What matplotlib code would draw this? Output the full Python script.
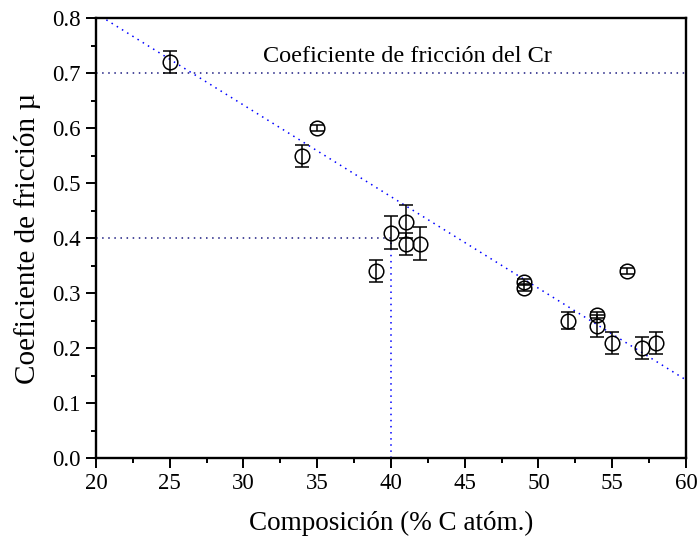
import numpy as np
import matplotlib.pyplot as plt
from matplotlib.ticker import MultipleLocator

# data
comp = [25, 34, 35, 39, 40, 41, 41, 42, 49, 49, 52, 54, 54, 55, 56, 57, 58]
mu = [0.72, 0.55, 0.60, 0.34, 0.41, 0.43, 0.39, 0.39, 0.32, 0.31, 0.25, 0.26, 0.24, 0.21, 0.34, 0.20, 0.21]
err = [0.02, 0.02, 0.006, 0.02, 0.03, 0.03, 0.02, 0.03, 0.006, 0.006, 0.015, 0.006, 0.02, 0.02, 0.006, 0.02, 0.02]

# linear fit shown as dotted line
fit_a = 1.1416
fit_b = -0.01666
cr_mu = 0.7
ref_x = 40
ref_mu = 0.4

plt.rcParams['font.family'] = ['Liberation Serif', 'DejaVu Serif']

fig = plt.figure(figsize=(6.99, 5.38), dpi=100)
ax = fig.add_axes([0.1373, 0.1487, 0.8441, 0.8178])

xf = np.array([20, 60])
ax.plot(xf, fit_a + fit_b * xf, color='blue', linestyle=(0, (1, 3)), lw=1.1)
ax.plot([20, 60], [cr_mu, cr_mu], color='#1a1a80', linestyle=(0, (1, 3)), lw=1.1)
ax.plot([20, ref_x], [ref_mu, ref_mu], color='#1a1a80', linestyle=(0, (1, 3)), lw=1.1)
ax.plot([ref_x, ref_x], [0, ref_mu], color='blue', linestyle=(0, (1, 3)), lw=1.1)

ax.errorbar(comp, mu, yerr=err, fmt='o', mfc='none', mec='black', ecolor='black',
            ms=10.5, mew=1.1, elinewidth=1.1, capsize=5, capthick=1.1)

ax.text(31.3, 0.72, 'Coeficiente de fricción del Cr', fontsize=17.5, va='baseline', ha='left')

ax.set_xlim(20, 60)
ax.set_ylim(0, 0.8)
ax.xaxis.set_major_locator(MultipleLocator(5))
ax.xaxis.set_minor_locator(MultipleLocator(2.5))
ax.yaxis.set_major_locator(MultipleLocator(0.1))
ax.yaxis.set_minor_locator(MultipleLocator(0.05))
ax.yaxis.set_major_formatter(plt.FormatStrFormatter('%.1f'))
ax.tick_params(which='both', direction='out', width=1.4, labelsize=16.5)
ax.tick_params(which='major', length=7, pad=4)
ax.tick_params(which='minor', length=3.5)
for s in ax.spines.values():
    s.set_linewidth(1.7)

ax.set_xlabel('Composición (% C atóm.)', fontsize=19.5, labelpad=12)
ax.set_ylabel('Coeficiente de fricción µ', fontsize=21, labelpad=8)

plt.savefig('out.png', dpi=100)
